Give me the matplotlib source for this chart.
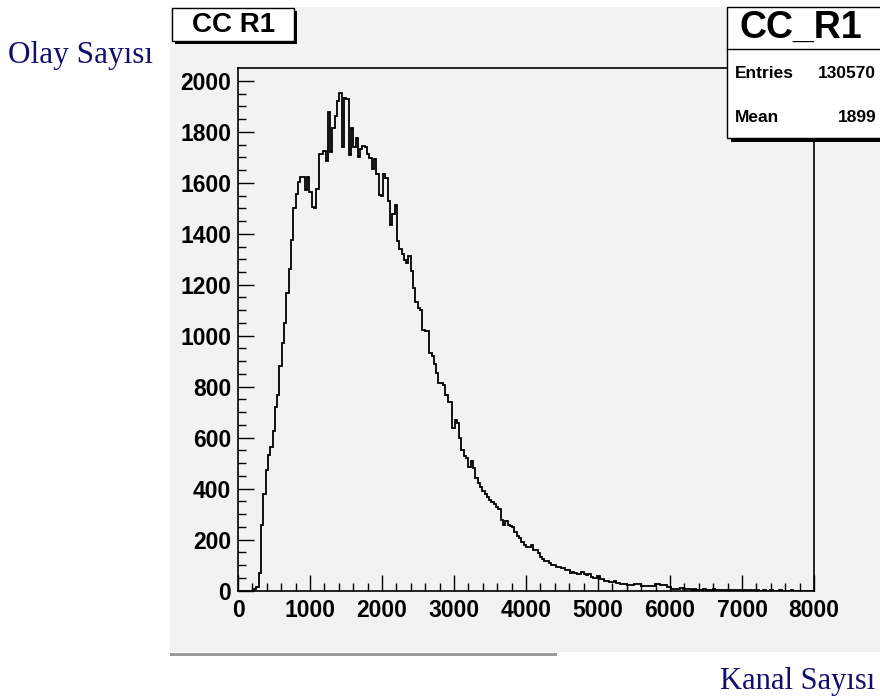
import numpy as np
import matplotlib
matplotlib.use('Agg')
import matplotlib.pyplot as plt
from matplotlib.patches import Rectangle
from matplotlib import font_manager

# histogram CC R1, 250 bins of 32 channels between 0 and 8000
binWidth = 32
xMin = 0
xMax = 8000
counts = [
    0, 0, 0, 0, 0, 0, 0, 4, 12, 67,
    256, 378, 472, 531, 563, 626, 720, 768, 882, 972,
    1051, 1169, 1260, 1374, 1500, 1555, 1602, 1623, 1623, 1570,
    1623, 1565, 1505, 1500, 1575, 1712, 1712, 1726, 1685, 1877,
    1720, 1815, 1864, 1922, 1953, 1740, 1932, 1930, 1709, 1815,
    1740, 1776, 1700, 1732, 1745, 1740, 1713, 1697, 1655, 1693,
    1634, 1551, 1550, 1634, 1620, 1528, 1433, 1476, 1512, 1370,
    1339, 1320, 1299, 1287, 1311, 1252, 1189, 1134, 1110, 1102,
    1024, 1020, 1017, 934, 919, 890, 854, 815, 815, 807,
    768, 741, 741, 639, 669, 657, 598, 551, 528, 520,
    485, 509, 480, 440, 420, 405, 391, 380, 368, 356,
    348, 340, 327, 320, 276, 256, 273, 256, 252, 250,
    229, 215, 205, 190, 177, 170, 170, 177, 160, 157,
    146, 130, 122, 114, 114, 106, 102, 102, 94, 94,
    88, 88, 79, 79, 67, 72, 70, 63, 63, 71,
    65, 59, 66, 52, 50, 50, 55, 46, 46, 39,
    39, 33, 33, 37, 29, 29, 26, 26, 26, 20,
    22, 22, 26, 26, 26, 16, 16, 16, 16, 16,
    16, 26, 26, 20, 20, 20, 13, 13, 7, 7,
    7, 5, 8, 6, 7, 5, 4, 3, 5, 3,
    3, 2, 4, 3, 2, 3, 4, 2, 3, 2,
    3, 2, 3, 2, 1, 2, 2, 1, 2, 1,
    1, 0, 1, 0, 1, 1, 0, 0, 1, 0,
    0, 1, 0, 0, 0, 1, 0, 0, 0, 0,
    1, 0, 0, 0, 0, 0, 0, 0, 0, 0,
]
edges = np.arange(xMin, xMax + binWidth, binWidth)

histName = "CC_R1"
histTitle = "CC R1"
entries = 130570
meanValue = 1899
xTicks = [0, 1000, 2000, 3000, 4000, 5000, 6000, 7000, 8000]
yTicks = [0, 200, 400, 600, 800, 1000, 1200, 1400, 1600, 1800, 2000]
xLabel = "Kanal Sayısı"
yLabel = "Olay Sayısı"

W, H = 880, 698
names = {f.name for f in font_manager.fontManager.ttflist}
sansFont = "Liberation Sans" if "Liberation Sans" in names else "DejaVu Sans"
serifFont = "Liberation Serif" if "Liberation Serif" in names else "DejaVu Serif"
navy = "#10106c"
canvasGray = "#f2f2f2"


def fx(px):
    return px / W


def fy(py):
    return 1 - py / H


def boxWithShadow(fig, x0, y0, x1, y1, shadow=4):
    """Draw a white ROOT-like pave with its black shadow (pixel coords)"""
    fig.patches.append(Rectangle((fx(x0 + shadow), fy(y1 + shadow)), fx(x1 - x0), (y1 - y0) / H,
                                 transform=fig.transFigure, facecolor="black", edgecolor="none", zorder=5))
    fig.patches.append(Rectangle((fx(x0), fy(y1)), fx(x1 - x0), (y1 - y0) / H,
                                 transform=fig.transFigure, facecolor="white", edgecolor="black",
                                 linewidth=1.0, zorder=6))


fig = plt.figure(figsize=(W / 100, H / 100), dpi=100)
fig.patch.set_facecolor("white")

# canvas, drawn below the axes
fig.patches.append(Rectangle((fx(170), fy(652)), fx(710), 645 / H, transform=fig.transFigure,
                             facecolor=canvasGray, edgecolor="none", zorder=-2))
fig.patches.append(Rectangle((fx(170), fy(656)), fx(387), 3 / H, transform=fig.transFigure,
                             facecolor="#9a9a9a", edgecolor="none", zorder=-2))

ax = fig.add_axes([fx(238), fy(590.5), fx(814 - 238), (590.5 - 68) / H])
ax.set_facecolor(canvasGray)
ax.stairs(counts, edges, color="black", linewidth=1.3, baseline=0)
ax.set_xlim(xMin, xMax)
ax.set_ylim(0, 1.05 * max(counts))

ax.set_xticks(xTicks)
ax.set_xticks(np.arange(xMin, xMax + 1, 200), minor=True)
ax.set_yticks(yTicks)
ax.set_yticks(np.arange(0, 2001, 50), minor=True)
ax.tick_params(which="both", direction="in", top=False, right=False, width=1.0, color="black")
ax.tick_params(which="major", length=11.5)
ax.tick_params(which="minor", length=6)
ax.tick_params(axis="y", pad=5)
ax.tick_params(axis="x", pad=6)
for lab in ax.get_xticklabels() + ax.get_yticklabels():
    lab.set_fontfamily(sansFont)
    lab.set_fontweight("bold")
    lab.set_fontsize(16.5)
for sp in ax.spines.values():
    sp.set_linewidth(1.2)
    sp.set_color("black")

# title pave
boxWithShadow(fig, 172, 8, 294, 41, shadow=3)
fig.text(fx(234), fy(25), histTitle, ha="center", va="center", fontsize=20, fontweight="bold",
         family=sansFont, zorder=7)

# stats pave
boxWithShadow(fig, 727, 7, 884, 138, shadow=4)
fig.lines.append(plt.Line2D([fx(727), fx(880)], [fy(49), fy(49)], transform=fig.transFigure,
                            color="black", linewidth=1.0, zorder=7))
fig.text(fx(801), fy(28), histName, ha="center", va="center", fontsize=27, fontweight="bold",
         family=sansFont, zorder=7)
fig.text(fx(735), fy(74), "Entries", ha="left", va="center", fontsize=12.5, fontweight="bold",
         family=sansFont, zorder=7)
fig.text(fx(876), fy(74), str(entries), ha="right", va="center", fontsize=12.5, fontweight="bold",
         family=sansFont, zorder=7)
fig.text(fx(735), fy(118), "Mean", ha="left", va="center", fontsize=12.5, fontweight="bold",
         family=sansFont, zorder=7)
fig.text(fx(876), fy(118), str(meanValue), ha="right", va="center", fontsize=12.5, fontweight="bold",
         family=sansFont, zorder=7)

# axis titles as on the slide
fig.text(fx(8), fy(56), yLabel, ha="left", va="center", fontsize=22.5, family=serifFont, color=navy)
fig.text(fx(875), fy(681), xLabel, ha="right", va="center", fontsize=22, family=serifFont, color=navy)

fig.savefig("out.png", dpi=100)
